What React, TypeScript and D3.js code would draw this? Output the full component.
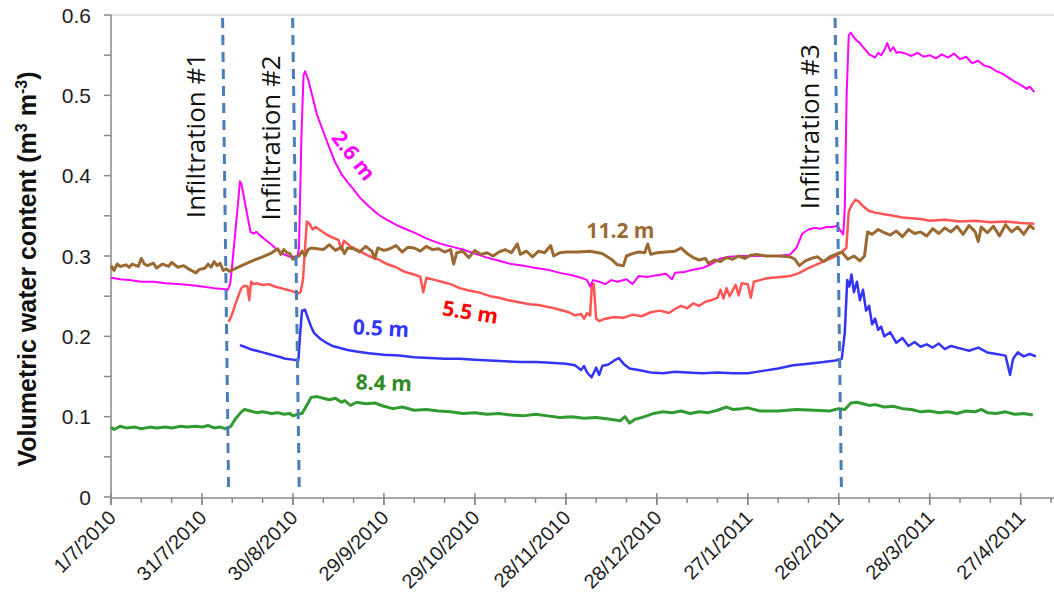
import React, { useEffect, useRef } from "react";
import * as d3 from "d3";

// days counted from 1/7/2010
const tickLabels = [
  "1/7/2010", "31/7/2010", "30/8/2010", "29/9/2010", "29/10/2010", "28/11/2010",
  "28/12/2010", "27/1/2011", "26/2/2011", "28/3/2011", "27/4/2011",
];
const yTicks = [0, 0.1, 0.2, 0.3, 0.4, 0.5, 0.6];

const green84: [number, number][] = [
  [0, .087], [1, .084], [3, .088], [5, .086], [8, .087], [10, .085], [13, .087], [15, .086], [18, .087],
  [20, .086], [23, .088], [25, .087], [28, .088], [30, .087], [32, .089], [34, .086], [36, .087], [38, .085],
  [39.5, .088], [41, .097], [43, .106], [44, .109], [46, .107], [48, .105], [50, .106], [53, .104], [55, .105],
  [57, .103], [59, .104], [60, .101], [61.5, .103], [63, .104], [65, .117], [66, .124], [68, .125], [70, .123],
  [72, .121], [74, .123], [76, .118], [77, .12], [79, .114], [81, .118], [84, .116], [87, .117], [90, .113],
  [93, .11], [96, .112], [100, .108], [104, .109], [108, .107], [112, .106], [116, .104], [120, .105],
  [124, .103], [128, .104], [132, .102], [136, .101], [140, .103], [144, .101], [148, .099], [152, .1],
  [156, .098], [160, .099], [164, .097], [168, .095], [169.5, .1], [171, .092], [173, .097], [176, .1],
  [179, .104], [182, .106], [185, .105], [188, .107], [191, .104], [194, .106], [197, .105], [200, .108],
  [203, .112], [205, .109], [208, .11], [210, .111], [214, .107], [220, .107], [226, .109], [232, .108],
  [237, .107], [240, .11], [242, .109], [244, .117], [246, .118], [248, .116], [250, .114], [252, .115],
  [255, .112], [258, .113], [261, .11], [264, .109], [267, .106], [270, .107], [273, .105], [276, .106],
  [279, .104], [282, .107], [285, .106], [287, .109], [289, .105], [292, .104], [295, .106], [298, .103],
  [301, .104], [304, .102],
];

const blue05: [number, number][] = [
  [42.5, .189], [44, .187], [46, .184], [48, .182], [50, .18], [52, .178], [54, .176], [56, .174], [57.5, .172],
  [60, .171], [61.8, .17], [62.3, .2], [63, .232], [64, .233], [65, .222], [66, .212], [67, .204], [69, .197],
  [71, .192], [73, .188], [75, .186], [78, .183], [81, .181], [85, .179], [90, .177], [95, .176], [100, .174],
  [105, .173], [110, .172], [115, .172], [120, .171], [125, .17], [130, .169], [135, .168], [140, .168],
  [145, .167], [150, .166], [153, .164], [155, .158], [156, .163], [157, .155], [158.5, .149], [160, .161],
  [161, .152], [162, .163], [164, .165], [166, .17], [167.5, .173], [169, .166], [171, .16], [174, .158],
  [178, .155], [182, .154], [186, .156], [190, .155], [195, .154], [200, .155], [205, .154], [210, .154],
  [215, .157], [220, .16], [225, .164], [230, .166], [235, .168], [239, .17], [241, .172], [242, .205],
  [242.8, .27], [243.5, .262], [244.2, .277], [245, .255], [246, .268], [247, .245], [248, .258], [249, .232],
  [250, .238], [251, .215], [252, .222], [253, .208], [254, .212], [255, .2], [257, .205], [259, .192],
  [261, .198], [263, .188], [265, .193], [267, .187], [269, .19], [271, .186], [273, .191], [275, .184],
  [277, .188], [280, .185], [283, .182], [286, .186], [289, .18], [292, .178], [295, .176], [296.5, .152],
  [297.5, .172], [299, .18], [301, .175], [303, .178], [305, .175],
];

const magenta26: [number, number][] = [
  [0, .273], [3, .271], [6, .27], [10, .268], [14, .268], [18, .266], [22, .265], [26, .264], [30, .262],
  [34, .26], [37, .259], [38.5, .258], [39.3, .265], [40, .29], [41, .33], [42, .37], [42.5, .393], [43, .39],
  [44, .37], [45, .35], [46, .33], [47, .328], [48, .33], [49, .326], [51, .32], [53, .314], [55, .307],
  [57, .302], [59, .299], [60.5, .299], [61.5, .3], [62, .31], [62.8, .45], [63.5, .525], [64, .53],
  [65, .52], [66, .505], [67, .49], [68, .475], [70, .455], [72, .435], [74, .416], [76, .402], [78, .392],
  [80, .383], [82, .373], [85, .362], [88, .352], [91, .345], [95, .337], [100, .329], [104, .322],
  [108, .316], [112, .312], [116, .308], [120, .303], [124, .298], [128, .294], [132, .29], [136, .288],
  [140, .285], [144, .283], [148, .279], [152, .276], [155, .273], [157, .27], [158, .262], [159, .27],
  [161, .268], [163, .265], [165, .27], [167, .268], [170, .271], [172, .265], [174, .275], [177, .274],
  [180, .276], [183, .278], [185, .271], [186, .279], [189, .28], [192, .283], [195, .285], [198, .29],
  [201, .297], [204, .299], [208, .3], [212, .3], [216, .3], [220, .3], [224, .302], [226, .31], [228, .328],
  [230, .333], [232, .335], [234, .334], [236, .336], [238, .336], [239.5, .338], [240.5, .332], [241.5, .327],
  [242, .36], [242.6, .5], [243.3, .575], [244, .578], [245, .572], [246, .568], [247, .565], [248, .56],
  [249, .556], [250, .551], [251, .549], [252, .547], [253, .553], [254, .55], [255, .556], [256, .565],
  [257, .555], [258, .56], [259, .553], [260, .554], [262, .552], [264, .549], [266, .553], [268, .548],
  [270, .55], [272, .546], [274, .551], [276, .547], [278, .552], [280, .545], [282, .548], [284, .54],
  [286, .543], [288, .537], [290, .535], [292, .53], [294, .527], [296, .522], [298, .517], [300, .513],
  [302, .508], [303, .511], [304.5, .504],
];

const red55: [number, number][] = [
  [38.8, .218], [40, .228], [41, .24], [42, .25], [43, .26], [44, .263], [45, .262], [45.6, .245], [46.2, .268],
  [47, .265], [48, .266], [50, .264], [52, .265], [54, .262], [56, .26], [58, .258], [60, .256], [61.5, .253],
  [62.5, .255], [63.3, .27], [64, .31], [64.6, .343], [65.5, .34], [66.5, .333], [67.5, .336], [69, .332],
  [71, .327], [73, .323], [75, .32], [76, .308], [76.8, .319], [79, .312], [82, .306], [85, .3], [88, .296],
  [91, .29], [94, .286], [97, .28], [100, .277], [102, .274], [103, .255], [104, .273], [107, .27], [110, .267],
  [112, .265], [115, .26], [118, .257], [121, .255], [125, .25], [128, .248], [131, .245], [135, .242],
  [138, .24], [141, .239], [145, .236], [148, .233], [151, .23], [153, .226], [155, .228], [156, .222],
  [157, .229], [158, .226], [158.6, .265], [159.2, .265], [160, .222], [161, .219], [163, .222], [166, .224],
  [169, .223], [172, .227], [175, .225], [178, .23], [181, .232], [184, .229], [186, .234], [188, .238],
  [190, .235], [192, .241], [194, .238], [196, .243], [198, .245], [200, .248], [201, .258], [202, .247],
  [203, .26], [204, .25], [206, .264], [207, .251], [208, .266], [210, .265], [211, .248], [212, .268],
  [214, .27], [216, .272], [218, .273], [221, .274], [224, .275], [227, .279], [230, .285], [233, .29],
  [236, .295], [239, .3], [241, .305], [242.5, .31], [243.3, .355], [244.2, .363], [245.5, .37], [246.5, .368],
  [248, .362], [250, .356], [252, .354], [255, .352], [258, .35], [261, .348], [264, .347], [267, .346],
  [270, .344], [275, .345], [280, .343], [285, .344], [290, .342], [295, .343], [300, .341], [304.5, .34],
];

const brown112: [number, number][] = [
  [0, .288], [1, .282], [2, .29], [3, .287], [5, .289], [6, .286], [7, .29], [9, .287], [10, .297], [11, .29],
  [12, .288], [14, .291], [15, .285], [17, .29], [19, .287], [20, .292], [22, .286], [24, .288], [26, .283],
  [28, .279], [29, .283], [31, .285], [32, .29], [33, .286], [34, .293], [35, .288], [36, .291], [37, .282],
  [38, .284], [39, .281], [42, .286], [46, .293], [50, .299], [53, .304], [55, .309], [56, .302], [57, .308],
  [58, .304], [59, .303], [60, .296], [61, .299], [62, .3], [63, .306], [64, .3], [65, .308], [66, .31],
  [68, .309], [70, .308], [72, .314], [74, .307], [76, .311], [77, .303], [78, .31], [80, .309], [82, .305],
  [84, .312], [86, .306], [87, .297], [88, .31], [90, .307], [92, .309], [94, .313], [96, .305], [98, .311],
  [100, .31], [102, .306], [104, .312], [106, .308], [108, .309], [110, .305], [112, .308], [113, .29],
  [114, .304], [116, .306], [118, .298], [120, .307], [122, .302], [124, .304], [126, .3], [128, .305],
  [130, .308], [132, .304], [134, .315], [135, .302], [137, .306], [139, .299], [141, .306], [143, .304],
  [145, .313], [146, .3], [148, .304], [150, .305], [154, .305], [158, .306], [162, .303], [165, .296],
  [167, .289], [169, .288], [170, .3], [172, .303], [174, .305], [176, .304], [177, .315], [178, .302],
  [180, .304], [183, .305], [186, .306], [188, .31], [190, .303], [192, .298], [194, .295], [196, .297],
  [197, .291], [199, .295], [201, .293], [203, .298], [205, .296], [207, .3], [209, .297], [211, .301],
  [213, .302], [216, .3], [220, .3], [224, .299], [225.5, .296], [227, .288], [229, .294], [231, .297],
  [233, .299], [235, .293], [237, .299], [239, .302], [241, .305], [243, .296], [245, .3], [247, .294],
  [248.5, .3], [249.5, .33], [251, .327], [253, .333], [255, .329], [257, .326], [259, .331], [261, .324],
  [263, .333], [265, .328], [267, .33], [269, .325], [271, .334], [273, .328], [275, .335], [277, .33],
  [279, .337], [281, .327], [283, .338], [285, .33], [286, .318], [287, .336], [289, .329], [291, .337],
  [293, .325], [295, .339], [297, .33], [299, .336], [301, .327], [303, .338], [304.5, .333],
];

// infiltration events: day at top of line, day at bottom
const infiltrations = [
  { label: "Infiltration #1", top: 36.8, bottom: 38.8, textDay: 31, textValue: 0.45 },
  { label: "Infiltration #2", top: 59.9, bottom: 62.1, textDay: 55.8, textValue: 0.447 },
  { label: "Infiltration #3", top: 238.8, bottom: 240.9, textDay: 233.4, textValue: 0.461 },
];

const series = [
  { name: "8.4 m", data: green84, color: "#319b31", width: 3 },
  { name: "0.5 m", data: blue05, color: "#3434f4", width: 2.5 },
  { name: "5.5 m", data: red55, color: "#ff5555", width: 2.5 },
  { name: "2.6 m", data: magenta26, color: "#ff00ff", width: 2 },
  { name: "11.2 m", data: brown112, color: "#9b6a32", width: 3 },
];

const seriesLabels = [
  { text: "2.6 m", day: 80, value: 0.425, angle: 52, color: "#ff00ff" },
  { text: "5.5 m", day: 118.5, value: 0.23, angle: 9, color: "#ff0000" },
  { text: "0.5 m", day: 89, value: 0.21, angle: 3, color: "#3333ff" },
  { text: "8.4 m", day: 90, value: 0.142, angle: 2, color: "#2e8b22" },
  { text: "11.2 m", day: 168, value: 0.332, angle: 0, color: "#9b6a32" },
];

export default function App() {
  const ref = useRef<SVGSVGElement | null>(null);

  useEffect(() => {
    const svg = d3.select(ref.current);
    svg.selectAll("*").remove();

    const x = d3.scaleLinear().domain([0, 310]).range([111, 1051]);
    const y = d3.scaleLinear().domain([0, 0.6]).range([497, 15]);
    const axisColor = "#888";

    // top border
    svg.append("line")
      .attr("x1", x(0)).attr("x2", 1054)
      .attr("y1", y(0.6)).attr("y2", y(0.6))
      .attr("stroke", "#c8c8c8").attr("stroke-width", 1.2);

    // y axis
    svg.append("line")
      .attr("x1", x(0)).attr("x2", x(0))
      .attr("y1", y(0)).attr("y2", y(0.6))
      .attr("stroke", axisColor).attr("stroke-width", 1.5);

    const yMinor = d3.range(0, 0.601, 0.05);
    svg.selectAll("line.ytick")
      .data(yMinor)
      .join("line")
      .attr("class", "ytick")
      .attr("x1", x(0) - 7).attr("x2", x(0))
      .attr("y1", (d) => y(d)).attr("y2", (d) => y(d))
      .attr("stroke", axisColor).attr("stroke-width", 1.5);

    svg.selectAll("text.ylab")
      .data(yTicks)
      .join("text")
      .attr("class", "ylab")
      .attr("x", 91)
      .attr("y", (d) => y(d))
      .attr("dy", "0.36em")
      .attr("text-anchor", "end")
      .style("font-family", "Liberation Sans, Arial, sans-serif")
      .style("font-size", "21px")
      .style("fill", "#222")
      .text((d) => String(d));

    // x axis
    svg.append("line")
      .attr("x1", x(0)).attr("x2", 1054)
      .attr("y1", y(0) + 1).attr("y2", y(0) + 1)
      .attr("stroke", axisColor).attr("stroke-width", 1.5);

    const minorDays = d3.range(0, 311, 10);
    svg.selectAll("line.xminor")
      .data(minorDays)
      .join("line")
      .attr("class", "xminor")
      .attr("x1", (d) => x(d)).attr("x2", (d) => x(d))
      .attr("y1", y(0) + 1)
      .attr("y2", (d) => (d % 30 === 0 ? y(0) + 8 : y(0) + 6))
      .attr("stroke", axisColor).attr("stroke-width", 1.5);

    svg.selectAll("line.xmajor")
      .data(tickLabels)
      .join("line")
      .attr("class", "xmajor")
      .attr("x1", (_, i) => x(i * 30)).attr("x2", (_, i) => x(i * 30))
      .attr("y1", y(0) - 4).attr("y2", y(0) + 8)
      .attr("stroke", axisColor).attr("stroke-width", 1.5);

    svg.selectAll("text.xlab")
      .data(tickLabels)
      .join("text")
      .attr("class", "xlab")
      .attr("text-anchor", "end")
      .attr("transform", (_, i) => `translate(${x(i * 30) + 6},${y(0) + 22}) rotate(-45)`)
      .style("font-family", "Liberation Sans, Arial, sans-serif")
      .style("font-size", "20px")
      .style("fill", "#222")
      .text((d) => d);

    // y title
    const title = svg.append("text")
      .attr("transform", `translate(36,${(y(0) + y(0.6)) / 2 + 13}) rotate(-90)`)
      .attr("text-anchor", "middle")
      .style("font-family", "Liberation Sans, Arial, sans-serif")
      .style("font-size", "25px")
      .style("font-weight", "bold")
      .style("fill", "#111");
    title.append("tspan").text("Volumetric water content (m");
    title.append("tspan").attr("dy", -9).style("font-size", "16px").text("3");
    title.append("tspan").attr("dy", 9).text(" m");
    title.append("tspan").attr("dy", -9).style("font-size", "16px").text("-3");
    title.append("tspan").attr("dy", 9).text(")");

    // series lines
    const line = d3.line<[number, number]>()
      .x((d) => x(d[0]))
      .y((d) => y(d[1]));

    svg.selectAll("path.series")
      .data(series)
      .join("path")
      .attr("class", "series")
      .attr("d", (d) => line(d.data))
      .attr("fill", "none")
      .attr("stroke", (d) => d.color)
      .attr("stroke-width", (d) => d.width)
      .attr("stroke-linejoin", "round");

    // infiltration dashed lines
    svg.selectAll("line.infil")
      .data(infiltrations)
      .join("line")
      .attr("class", "infil")
      .attr("x1", (d) => x(d.top)).attr("x2", (d) => x(d.bottom))
      .attr("y1", y(0.6) + 3).attr("y2", y(0) - 3)
      .attr("stroke", "#4a7ebb")
      .attr("stroke-width", 3)
      .attr("stroke-dasharray", "10,7");

    svg.selectAll("text.infil")
      .data(infiltrations)
      .join("text")
      .attr("class", "infil")
      .attr("text-anchor", "middle")
      .attr("transform", (d) => `translate(${x(d.textDay)},${y(d.textValue)}) rotate(-90)`)
      .style("font-family", "Open Sans, sans-serif")
      .style("font-size", "26px")
      .style("fill", "#111")
      .text((d) => d.label);

    // series labels
    svg.selectAll("text.slab")
      .data(seriesLabels)
      .join("text")
      .attr("class", "slab")
      .attr("text-anchor", "middle")
      .attr("dy", "0.35em")
      .attr("transform", (d) => `translate(${x(d.day)},${y(d.value)}) rotate(${d.angle})`)
      .style("font-family", "Open Sans, sans-serif")
      .style("font-size", "21px")
      .style("font-weight", "bold")
      .style("fill", (d) => d.color)
      .text((d) => d.text);
  }, []);

  return (
    <svg
      ref={ref}
      width={1054}
      height={605}
      style={{ position: "absolute", left: 0, top: 0, background: "#fff" }}
    />
  );
}
